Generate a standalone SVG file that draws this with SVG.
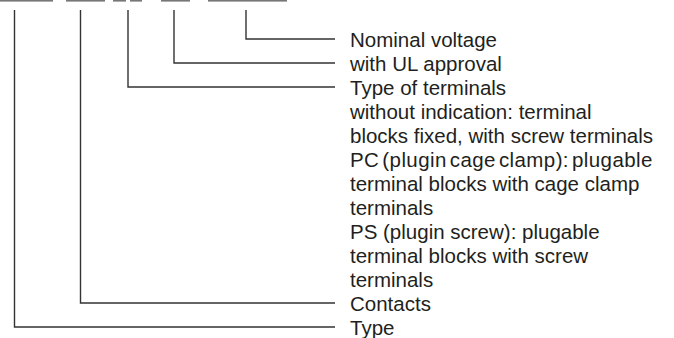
<svg xmlns="http://www.w3.org/2000/svg" width="674" height="338" viewBox="0 0 674 338">
<style>
.bar{fill:#777}
.c{fill:none;stroke:#333;stroke-width:1.4}
.t{font-family:"Liberation Sans",Arial,sans-serif;font-size:20.5px;fill:#231f20}
.tight{word-spacing:-3px;letter-spacing:0.4px}
</style>
<rect width="674" height="338" fill="#fff"/>
<g id="code">
<rect class="bar" x="0" y="0" width="53" height="1.6"/>
<rect class="bar" x="66" y="0" width="39" height="1.6"/>
<rect class="bar" x="113" y="0" width="13" height="1.6"/>
<rect class="bar" x="130" y="0" width="12" height="1.6"/>
<rect class="bar" x="161" y="0" width="29" height="1.6"/>
<rect class="bar" x="208" y="0" width="79" height="1.6"/>
</g>
<g id="connectors">
<path class="c" d="M246,10 V39 H335"/>
<path class="c" d="M174,10 V63 H335"/>
<path class="c" d="M128,10 V87 H335"/>
<path class="c" d="M80.5,10 V303 H335"/>
<path class="c" d="M14.5,10 V327 H335"/>
</g>
<g id="voltage"><text class="t" x="350" y="46.5">Nominal voltage</text></g>
<g id="ul"><text class="t" x="350" y="70.5">with UL approval</text></g>
<g id="terminals">
<text class="t" x="350" y="94.5">Type of terminals</text>
<text class="t" x="350" y="118.5">without indication: terminal</text>
<text class="t" x="350" y="142.5">blocks fixed, with screw terminals</text>
<text class="t tight" x="350" y="166.5">PC (plugin cage clamp): plugable</text>
<text class="t" x="350" y="190.5">terminal blocks with cage clamp</text>
<text class="t" x="350" y="214.5">terminals</text>
<text class="t" x="350" y="238.5">PS (plugin screw): plugable</text>
<text class="t" x="350" y="262.5">terminal blocks with screw</text>
<text class="t" x="350" y="286.5">terminals</text>
</g>
<g id="contacts"><text class="t" x="350" y="310.5">Contacts</text></g>
<g id="type"><text class="t" x="350" y="334.5">Type</text></g>
</svg>
